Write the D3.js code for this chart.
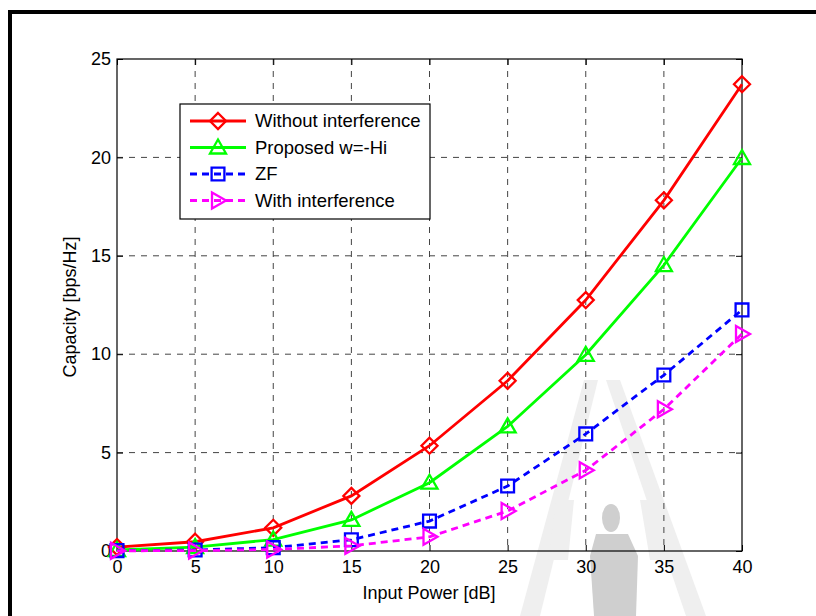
<!DOCTYPE html>
<html lang="en">
<head>
  <meta charset="UTF-8">
  <title>Capacity vs Input Power</title>
  <style>
    body { margin: 0; background: #fff; }
    svg { display: block; font-family: "Liberation Sans", Arial, sans-serif; }
  </style>
</head>
<body>
  <svg id="chart" width="816" height="616"></svg>

  <script src="https://d3js.org/d3.v7.min.js"></script>
  <script>
    // data
    const inputPower = [0, 5, 10, 15, 20, 25, 30, 35, 40];
    const withoutInterference = [0.2, 0.47, 1.18, 2.8, 5.35, 8.65, 12.75, 17.82, 23.72];
    const proposed = [0.05, 0.2, 0.58, 1.58, 3.47, 6.33, 9.97, 14.53, 19.97];
    const zf = [0.02, 0.05, 0.17, 0.57, 1.52, 3.3, 5.95, 8.94, 12.25];
    const withInterference = [0.01, 0.02, 0.08, 0.26, 0.72, 2.03, 4.1, 7.2, 11.03];
    const xTicks = [0, 5, 10, 15, 20, 25, 30, 35, 40];
    const yTicks = [0, 5, 10, 15, 20, 25];

    const series = [
      { name: "Without interference", values: withoutInterference, color: "#ff0000", dash: null, marker: "diamond" },
      { name: "Proposed w=-Hi", values: proposed, color: "#00ff00", dash: null, marker: "triangle" },
      { name: "ZF", values: zf, color: "#0000ff", dash: "7,5", marker: "square" },
      { name: "With interference", values: withInterference, color: "#ff00ff", dash: "7,5", marker: "right" }
    ];

    const svg = d3.select("#chart");

    // outer frame of the scanned page
    svg.append("path")
      .attr("d", "M10,616 V12 H816")
      .attr("fill", "none")
      .attr("stroke", "#000")
      .attr("stroke-width", 4);

    // faint watermark behind the plot
    const wm = svg.append("g");
    wm.append("g").attr("fill", "#efefef").call(p => {
      p.append("polygon").attr("points", "520,616 540,616 598,380 584,380");
      p.append("polygon").attr("points", "686,616 706,616 620,380 606,380");
      p.append("polygon").attr("points", "548,560 568,560 574,500 556,500");
      p.append("polygon").attr("points", "668,560 650,560 640,500 656,500");
    });
    wm.append("g").attr("fill", "#cfcfcf").call(p => {
      p.append("ellipse").attr("cx", 611).attr("cy", 518).attr("rx", 9).attr("ry", 14);
      p.append("polygon").attr("points", "596,534 628,534 638,556 636,616 594,616 590,556");
    });

    const margin = { left: 117, top: 59, right: 74, bottom: 65 };
    const width = 816 - margin.left - margin.right;
    const height = 616 - margin.top - margin.bottom;

    const g = svg.append("g").attr("transform", `translate(${margin.left},${margin.top})`);

    const x = d3.scaleLinear().domain([0, 40]).range([0, width]);
    const y = d3.scaleLinear().domain([0, 25]).range([height, 0]);

    // grid
    g.append("g").selectAll("line")
      .data(xTicks.slice(1, -1))
      .enter().append("line")
      .attr("x1", d => x(d)).attr("x2", d => x(d))
      .attr("y1", 0).attr("y2", height)
      .attr("stroke", "#444").attr("stroke-width", 1).attr("stroke-dasharray", "6,6");
    g.append("g").selectAll("line")
      .data(yTicks.slice(1, -1))
      .enter().append("line")
      .attr("y1", d => y(d)).attr("y2", d => y(d))
      .attr("x1", 0).attr("x2", width)
      .attr("stroke", "#444").attr("stroke-width", 1).attr("stroke-dasharray", "6,6");

    // axes with inward ticks
    const axisStyle = sel => {
      sel.select(".domain").remove();
      sel.selectAll("line").attr("stroke", "#000");
      sel.selectAll("text").attr("fill", "#000").style("font-size", "18px")
        .style("font-family", "'Liberation Sans', Arial, sans-serif");
    };
    g.append("g").attr("transform", `translate(0,${height})`)
      .call(d3.axisBottom(x).tickValues(xTicks).tickSizeInner(-6).tickSizeOuter(0).tickPadding(9))
      .call(axisStyle);
    g.append("g")
      .call(d3.axisLeft(y).tickValues(yTicks).tickSizeInner(-6).tickSizeOuter(0).tickPadding(6))
      .call(axisStyle);
    g.append("g").attr("transform", `translate(0,0)`)
      .call(d3.axisTop(x).tickValues(xTicks).tickSizeInner(-6).tickSizeOuter(0).tickFormat(""))
      .call(axisStyle);
    g.append("g").attr("transform", `translate(${width},0)`)
      .call(d3.axisRight(y).tickValues(yTicks).tickSizeInner(-6).tickSizeOuter(0).tickFormat(""))
      .call(axisStyle);

    g.append("rect")
      .attr("width", width).attr("height", height)
      .attr("fill", "none").attr("stroke", "#000").attr("stroke-width", 1.2);

    // marker shapes
    function markerPath(type, s) {
      if (type === "diamond") return `M0,${-s}L${s},0L0,${s}L${-s},0Z`;
      if (type === "triangle") return `M0,${-s}L${s},${s * 0.75}L${-s},${s * 0.75}Z`;
      if (type === "square") return `M${-s * 0.8},${-s * 0.8}H${s * 0.8}V${s * 0.8}H${-s * 0.8}Z`;
      return `M${s},0L${-s * 0.75},${-s}L${-s * 0.75},${s}Z`;
    }

    const line = d3.line()
      .x((d, i) => x(inputPower[i]))
      .y(d => y(d));

    series.forEach(s => {
      g.append("path")
        .datum(s.values)
        .attr("d", line)
        .attr("fill", "none")
        .attr("stroke", s.color)
        .attr("stroke-width", 2.8)
        .attr("stroke-dasharray", s.dash);
      g.append("g").selectAll("path")
        .data(s.values)
        .enter().append("path")
        .attr("transform", (d, i) => `translate(${x(inputPower[i])},${y(d)})`)
        .attr("d", markerPath(s.marker, 8))
        .attr("fill", "none")
        .attr("stroke", s.color)
        .attr("stroke-width", 2.3);
    });

    // legend
    const legend = g.append("g").attr("transform", `translate(${180 - margin.left},${104 - margin.top})`);
    legend.append("rect")
      .attr("width", 250).attr("height", 115)
      .attr("fill", "#fff").attr("stroke", "#000").attr("stroke-width", 1.2);
    series.forEach((s, i) => {
      const row = legend.append("g").attr("transform", `translate(0,${17 + i * 26.5})`);
      row.append("line")
        .attr("x1", 10).attr("x2", 66).attr("y1", 0).attr("y2", 0)
        .attr("stroke", s.color).attr("stroke-width", 2.8)
        .attr("stroke-dasharray", s.dash);
      row.append("path")
        .attr("transform", "translate(38,0)")
        .attr("d", markerPath(s.marker, 8))
        .attr("fill", "none").attr("stroke", s.color).attr("stroke-width", 2.3);
      row.append("text")
        .attr("x", 75).attr("y", 6)
        .style("font-size", "18.5px")
        .text(s.name);
    });

    // axis labels
    svg.append("text")
      .attr("x", 429).attr("y", 599)
      .attr("text-anchor", "middle")
      .style("font-size", "18px")
      .text("Input Power [dB]");
    svg.append("text")
      .attr("transform", `translate(76,307) rotate(-90)`)
      .attr("text-anchor", "middle")
      .style("font-size", "18px")
      .text("Capacity [bps/Hz]");
  </script>
</body>
</html>
